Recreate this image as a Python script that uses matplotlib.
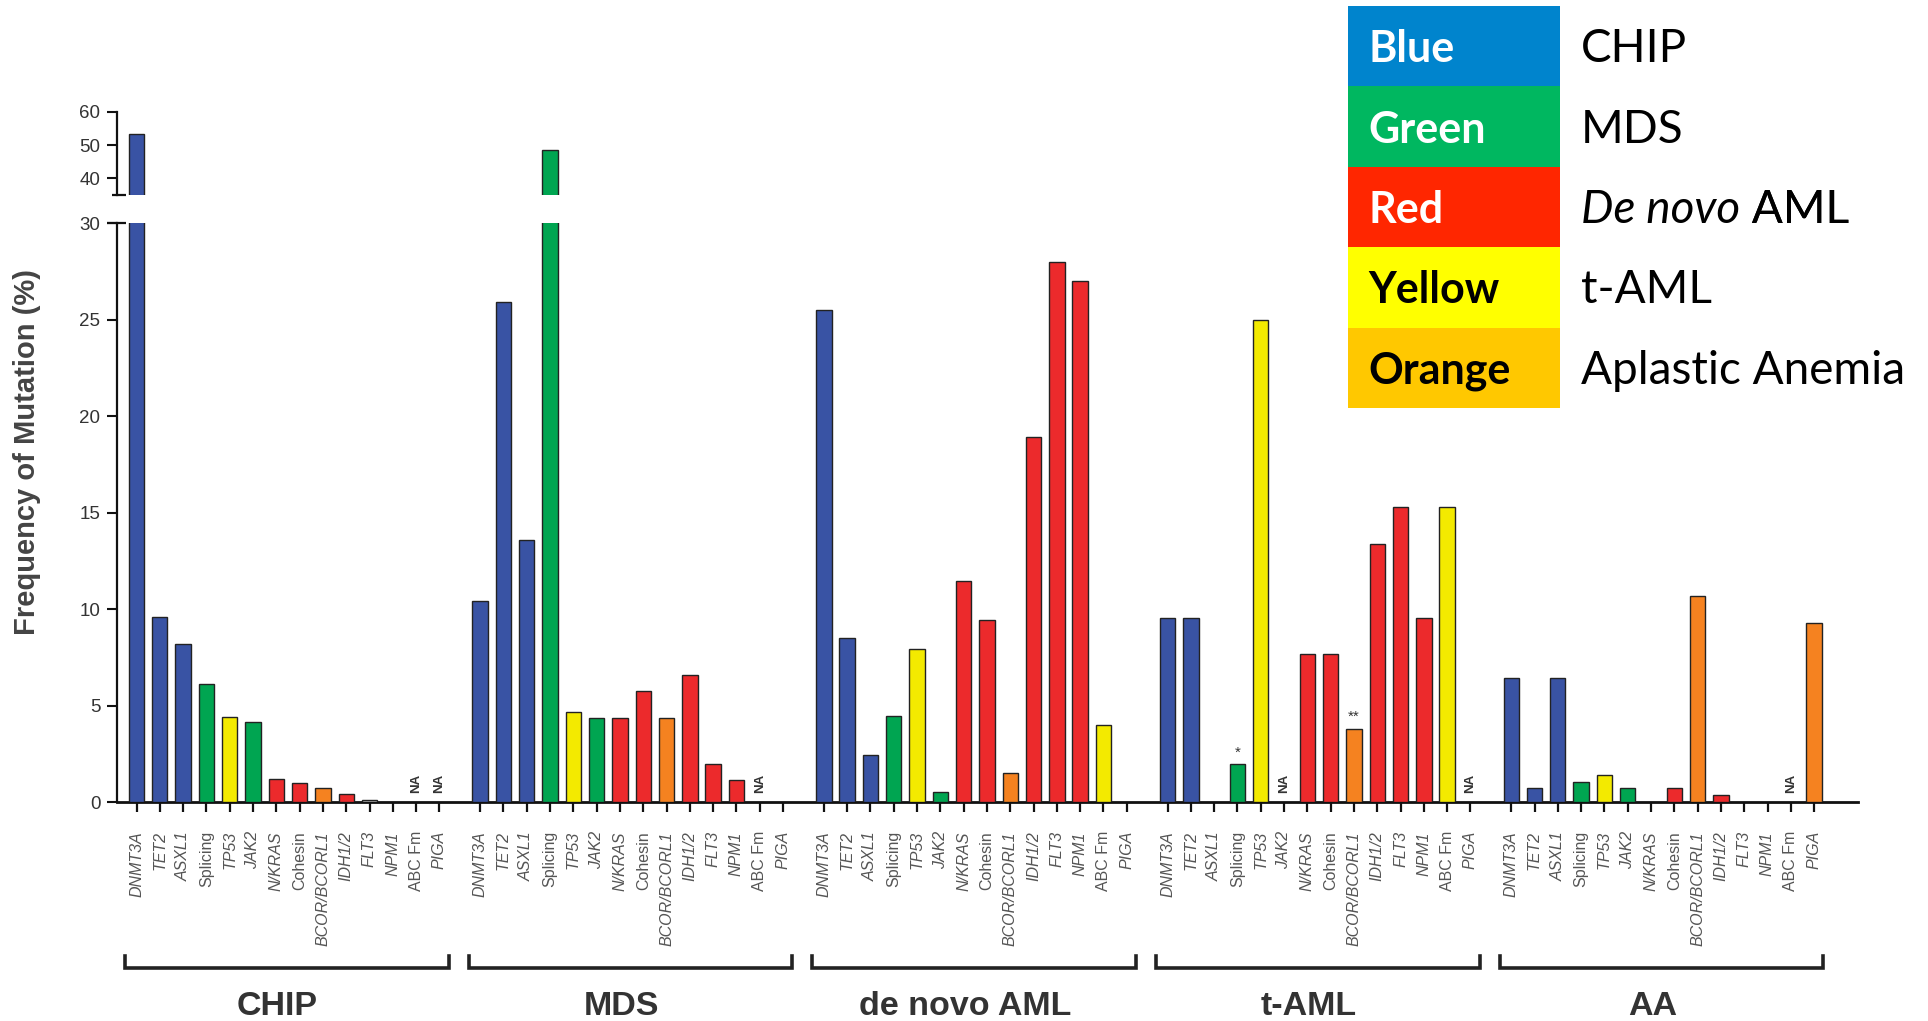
import numpy as np
import matplotlib
matplotlib.use("Agg")
import matplotlib.pyplot as plt
from matplotlib import transforms
from matplotlib.patches import Rectangle

plt.rcParams['font.family'] = ['Liberation Sans', 'DejaVu Sans']

# ---------------- data ----------------
genes = ["DNMT3A", "TET2", "ASXL1", "Splicing", "TP53", "JAK2", "N/KRAS", "Cohesin",
         "BCOR/BCORL1", "IDH1/2", "FLT3", "NPM1", "ABC Fm", "PIGA"]
gene_italic = [True, True, True, False, True, True, True, False, True, True, True, True, False, True]

groups = ["CHIP", "MDS", "de novo AML", "t-AML", "AA"]

# None = "NA"
chip_vals = [53.5, 9.6, 8.2, 6.1, 4.4, 4.15, 1.2, 1.0, 0.75, 0.4, 0.1, 0, None, None]
mds_vals  = [10.4, 25.9, 13.6, 48.5, 4.65, 4.35, 4.35, 5.75, 4.35, 6.6, 1.95, 1.15, None, 0]
aml_vals  = [25.5, 8.5, 2.45, 4.45, 7.95, 0.5, 11.45, 9.45, 1.5, 18.9, 28.0, 27.0, 4.0, 0]
taml_vals = [9.55, 9.55, 0, 1.95, 25.0, None, 7.65, 7.65, 3.8, 13.35, 15.3, 9.55, 15.3, None]
aa_vals   = [6.4, 0.7, 6.4, 1.05, 1.4, 0.7, 0, 0.7, 10.65, 0.35, 0, 0, None, 9.3]

chip_cols = ["B", "B", "B", "G", "Y", "G", "R", "R", "O", "R", "N", "-", "-", "-"]
mds_cols  = ["B", "B", "B", "G", "Y", "G", "R", "R", "O", "R", "R", "R", "-", "-"]
aml_cols  = ["B", "B", "B", "G", "Y", "G", "R", "R", "O", "R", "R", "R", "Y", "-"]
taml_cols = ["B", "B", "-", "G", "Y", "-", "R", "R", "O", "R", "R", "R", "Y", "-"]
aa_cols   = ["B", "B", "B", "G", "Y", "G", "-", "R", "O", "R", "-", "-", "-", "O"]

# annotations (group index, gene index, text)
stars = [(3, 3, "*"), (3, 8, "**")]

legend_names = ["Blue", "Green", "Red", "Yellow", "Orange"]
legend_meaning = ["CHIP", "MDS", "De novo AML", "t-AML", "Aplastic Anemia"]

all_vals = [chip_vals, mds_vals, aml_vals, taml_vals, aa_vals]
all_cols = [chip_cols, mds_cols, aml_cols, taml_cols, aa_cols]

# ---------------- styles ----------------
bar_colors = {"B": "#3953a4", "G": "#00a551", "R": "#ec2a2c", "Y": "#f3ea00",
              "O": "#f58220", "N": "#c8c8c8", "-": "#ffffff"}
legend_bg = ["#0084cd", "#00b760", "#ff2600", "#ffff00", "#ffc800"]
legend_fg = ["white", "white", "white", "black", "black"]

W, H = 1928, 1021
fig = plt.figure(figsize=(W / 100, H / 100), dpi=100)
fig.patch.set_facecolor("white")

def fy(py):
    return 1 - py / H

x_left_px, x_right_px = 117, 1858
axb = fig.add_axes([x_left_px / W, fy(802), (x_right_px - x_left_px) / W, (802 - 223) / H])
axt = fig.add_axes([x_left_px / W, fy(195), (x_right_px - x_left_px) / W, (195 - 112) / H])

stride = 14.75
unit_px = 23.3
xmin = -(136.5 - x_left_px) / unit_px
xmax = xmin + (x_right_px - x_left_px) / unit_px
bar_w = 0.66

positions = []
labels = []
for gi, (vals, cols) in enumerate(zip(all_vals, all_cols)):
    xs = gi * stride + np.arange(len(genes))
    for k, (x, v, c) in enumerate(zip(xs, vals, cols)):
        positions.append(x)
        labels.append(genes[k])
        if v is None:
            axb.text(x, 0.45, "NA", rotation=90, ha="center", va="bottom",
                     fontsize=9.5, fontweight="bold", color="#333333")
            continue
        if v <= 0:
            continue
        for ax in (axb, axt):
            ax.bar(x, v, width=bar_w, color=bar_colors[c], edgecolor="#222222",
                   linewidth=1.0, zorder=3)

for gi, ki, s in stars:
    x = gi * stride + ki
    axb.text(x, all_vals[gi][ki] + 0.25, s, ha="center", va="bottom", fontsize=11,
             color="#333333")

for ax in (axb, axt):
    ax.set_xlim(xmin, xmax)
    ax.spines["top"].set_visible(False)
    ax.spines["right"].set_visible(False)
    ax.spines["left"].set_linewidth(1.6)
    ax.spines["left"].set_color("#111111")
    ax.tick_params(axis="y", direction="out", length=7, width=1.5, colors="#111111",
                   labelsize=13.5, labelcolor="#333333", pad=5)

axb.set_ylim(0, 30)
axb.set_yticks([0, 5, 10, 15, 20, 25, 30])
axb.spines["bottom"].set_linewidth(2.0)
axb.spines["bottom"].set_color("#111111")
axb.set_xticks(positions)
axb.set_xticklabels(labels, rotation=90, fontsize=11.5, color="#555555", va="top", ha="center")
for lab, it in zip(axb.get_xticklabels(), gene_italic * len(groups)):
    if it:
        lab.set_fontstyle("italic")
axb.tick_params(axis="x", direction="out", length=7, width=1.6, colors="#111111",
                labelcolor="#555555", pad=14)

axt.set_ylim(35, 60)
axt.set_yticks([40, 50, 60])
axt.spines["bottom"].set_visible(False)
axt.set_xticks([])

# caps at the axis break
axb.plot([xmin - 0.42, xmin + 0.38], [30, 30], color="#111111", lw=1.6, clip_on=False,
         solid_capstyle="butt")
axt.plot([xmin - 0.22, xmin + 0.38], [35, 35], color="#111111", lw=1.6, clip_on=False,
         solid_capstyle="butt")

# group brackets and labels
tr = transforms.blended_transform_factory(axb.transData, fig.transFigure)
for gi, g in enumerate(groups):
    x0 = gi * stride - 0.5
    x1 = gi * stride + 13.4
    axb.plot([x0, x0, x1, x1], [fy(956), fy(968), fy(968), fy(956)], transform=tr,
             color="#222222", lw=2.6, clip_on=False, solid_joinstyle="miter")
    axb.text(gi * stride + 6.05, fy(1006), g, transform=tr, ha="center", va="center",
             fontsize=24.5, fontweight="bold", color="#333333")

fig.text(27 / W, fy(452), "Frequency of Mutation (%)", rotation=90, ha="center",
         va="center", fontsize=21, fontweight="bold", color="#444444")

# colour key at top right
row_top, row_h = 6.0, 80.4
box_x0, box_x1 = 1348, 1560
for i in range(len(legend_names)):
    y0 = row_top + i * row_h
    fig.patches.append(Rectangle((box_x0 / W, fy(y0 + row_h)), (box_x1 - box_x0) / W,
                                 row_h / H, transform=fig.transFigure,
                                 facecolor=legend_bg[i], edgecolor="none"))
    yc = fy(y0 + row_h / 2 + 3)
    fig.text(1368 / W, yc, legend_names[i], ha="left", va="center", fontsize=31,
             fontweight="bold", color=legend_fg[i], family=["Lato", "DejaVu Sans"])
    if legend_meaning[i].startswith("De novo"):
        t1 = fig.text(1581 / W, yc, "De novo", ha="left", va="center", fontsize=33,
                      fontstyle="italic", color="black", family=["Lato", "DejaVu Sans"])
        ann = plt.annotate(" AML", xy=(1, 0), xycoords=t1, ha="left", va="bottom",
                           fontsize=33, color="black", family=["Lato", "DejaVu Sans"],
                           annotation_clip=False)
        fig.add_artist(ann)
    else:
        fig.text(1581 / W, yc, legend_meaning[i], ha="left", va="center", fontsize=33,
                 color="black", family=["Lato", "DejaVu Sans"])

fig.savefig("out.png", dpi=100, facecolor="white")
